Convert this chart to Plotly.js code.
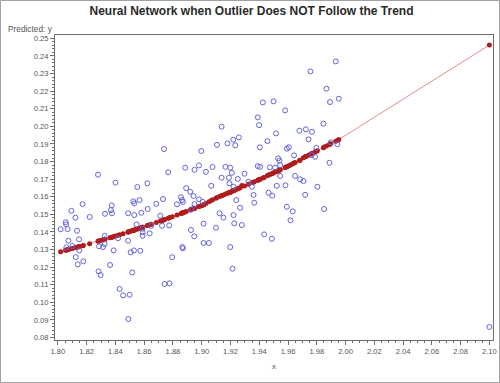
<!DOCTYPE html>
<html><head><meta charset="utf-8">
<script src="https://cdn.plot.ly/plotly-3.0.1.min.js"></script>
<style>html,body{margin:0;padding:0;background:#fff}#chart{width:500px;height:383px}</style>
</head><body><div id="chart"></div>
<script>
const xValues = [
1.8279,1.8738,1.8767,1.8885,1.8950,1.8981,1.8997,1.9029,1.9075,1.9106,
1.9138,1.9138,1.9165,1.9179,1.9198,1.9210,1.9219,1.9233,1.9258,1.9189,
1.9251,1.9297,1.9390,1.9399,1.9425,1.9499,1.9404,1.9457,1.9390,1.9406,
1.9474,1.9517,1.9580,1.9531,1.9540,1.9545,1.9510,1.9545,1.9592,1.9606,
1.9642,1.9649,1.9684,1.9679,1.9724,1.9742,1.9767,1.9756,1.9932,1.9867,
1.9892,1.9953,1.9846,1.9797,1.9788,1.9765,1.9897,1.9943,1.9888,1.8401,
1.8622,1.8552,1.8892,1.8172,1.8374,1.8369,1.8376,1.8328,1.8524,1.8531,
1.8568,1.8684,1.8731,1.8624,1.8580,1.8488,1.8531,1.8828,1.8856,1.8863,
1.8869,1.8094,1.8122,1.8221,1.8054,1.8057,1.8068,1.8019,1.8133,1.8073,
1.8147,1.8059,1.8101,1.8149,1.8124,1.8177,1.8138,1.8325,1.8286,1.8314,
1.8325,1.8388,1.8363,1.8283,1.8297,1.8418,1.8488,1.8547,1.8589,1.8589,
1.8589,1.8638,1.8649,1.8529,1.8506,1.8573,1.8517,1.8712,1.8724,1.8774,
1.8795,1.8742,1.8776,1.8865,1.8869,1.8429,1.8453,1.8499,1.8490,1.8920,
1.8943,1.8950,1.8981,1.9006,1.8927,1.9066,1.9193,1.9221,1.9325,1.9349,
1.9360,1.9365,1.9240,1.9267,1.9124,1.9151,1.9221,1.9226,1.9279,1.9013,
1.9099,1.8925,1.8948,1.9013,1.9050,1.9198,1.9214,1.9434,1.9488,1.9464,
1.9490,1.9522,1.9582,1.9592,1.9633,1.9617,1.9707,1.9719,1.9804,1.9851,
2.1000];

const observedY = [
0.1725,0.1871,0.1739,0.1765,0.1753,0.1778,0.1860,0.1742,0.1769,0.1895,
0.1998,0.1708,0.1770,0.1903,0.1765,0.1736,0.1924,0.1892,0.1937,0.1708,
0.1701,0.1731,0.2051,0.2007,0.2136,0.2142,0.1881,0.1916,0.1774,0.1770,
0.1767,0.1960,0.2091,0.1818,0.1805,0.1780,0.1765,0.1718,0.1873,0.1881,
0.1835,0.1718,0.1699,0.1975,0.1983,0.1926,0.1969,0.2312,0.2369,0.2214,
0.2138,0.2157,0.2015,0.1878,0.1827,0.1837,0.1909,0.1898,0.1793,0.1680,
0.1676,0.1655,0.1649,0.1558,0.1551,0.1524,0.1506,0.1503,0.1574,0.1562,
0.1581,0.1560,0.1587,0.1530,0.1509,0.1506,0.1496,0.1557,0.1597,0.1581,
0.1570,0.1520,0.1481,0.1485,0.1455,0.1443,0.1416,0.1415,0.1407,0.1350,
0.1358,0.1312,0.1320,0.1295,0.1257,0.1233,0.1216,0.1378,0.1318,0.1314,
0.1331,0.1295,0.1212,0.1176,0.1155,0.1364,0.1350,0.1443,0.1418,0.1398,
0.1378,0.1392,0.1435,0.1295,0.1284,0.1293,0.1170,0.1492,0.1435,0.1437,
0.1256,0.1104,0.1108,0.1314,0.1307,0.1076,0.1040,0.1043,0.0905,0.1628,
0.1604,0.1558,0.1585,0.1572,0.1528,0.1662,0.1676,0.1657,0.1685,0.1657,
0.1610,0.1566,0.1581,0.1537,0.1506,0.1481,0.1496,0.1449,0.1439,0.1447,
0.1424,0.1411,0.1375,0.1337,0.1337,0.1314,0.1191,0.1386,0.1361,0.1623,
0.1606,0.1662,0.1665,0.1543,0.1517,0.1466,0.1689,0.1611,0.1657,0.1530,
0.0860];

const predictedY = [
0.1347,0.1469,0.1478,0.1514,0.1534,0.1544,0.1549,0.1562,0.1583,0.1595,
0.1606,0.1606,0.1615,0.1620,0.1626,0.1631,0.1634,0.1639,0.1648,0.1623,
0.1645,0.1661,0.1694,0.1698,0.1707,0.1736,0.1699,0.1720,0.1694,0.1700,
0.1726,0.1742,0.1766,0.1748,0.1751,0.1753,0.1740,0.1753,0.1771,0.1776,
0.1791,0.1794,0.1808,0.1806,0.1829,0.1836,0.1846,0.1842,0.1916,0.1888,
0.1899,0.1925,0.1879,0.1859,0.1855,0.1845,0.1901,0.1920,0.1897,0.1377,
0.1436,0.1417,0.1516,0.1322,0.1370,0.1369,0.1370,0.1358,0.1409,0.1411,
0.1420,0.1454,0.1467,0.1437,0.1424,0.1400,0.1411,0.1496,0.1505,0.1507,
0.1509,0.1305,0.1311,0.1333,0.1296,0.1297,0.1299,0.1288,0.1313,0.1300,
0.1316,0.1297,0.1306,0.1317,0.1311,0.1323,0.1314,0.1358,0.1349,0.1355,
0.1358,0.1374,0.1367,0.1348,0.1351,0.1381,0.1400,0.1415,0.1427,0.1427,
0.1427,0.1441,0.1444,0.1410,0.1405,0.1422,0.1407,0.1462,0.1465,0.1480,
0.1487,0.1470,0.1481,0.1508,0.1509,0.1384,0.1390,0.1403,0.1400,0.1524,
0.1532,0.1534,0.1544,0.1552,0.1527,0.1579,0.1624,0.1635,0.1671,0.1679,
0.1683,0.1685,0.1642,0.1651,0.1601,0.1610,0.1635,0.1637,0.1664,0.1555,
0.1592,0.1526,0.1533,0.1555,0.1571,0.1626,0.1632,0.1710,0.1731,0.1723,
0.1732,0.1744,0.1767,0.1771,0.1787,0.1781,0.1822,0.1827,0.1862,0.1882,
0.2462];

const chartTitle = 'Neural Network when Outlier Does NOT Follow the Trend';
const yLabel = 'Predicted: y';
const xLabel = 'x';

// sort the fitted points by x so the fit line runs left to right
const order = xValues.map((v, i) => i).sort((a, b) => xValues[a] - xValues[b]);
const fitX = order.map(i => xValues[i]);
const fitY = order.map(i => predictedY[i]);

const traces = [
  {
    x: fitX, y: fitY, type: 'scatter', mode: 'lines+markers',
    line: {color: '#e58a8a', width: 1},
    marker: {color: '#b21c1c', size: 5, symbol: 'circle'},
    hoverinfo: 'skip'
  },
  {
    x: xValues, y: observedY, type: 'scatter', mode: 'markers',
    marker: {symbol: 'circle-open', size: 5, color: '#6464d8', line: {width: 1, color: '#6464d8'}}
  }
];

const axisCommon = {
  showgrid: false, zeroline: false, showline: true, mirror: true,
  linecolor: '#6e6e6e', linewidth: 1,
  ticks: 'outside', ticklen: 4, tickcolor: '#6e6e6e', tickwidth: 1,
  tickformat: '.2f',
  tickfont: {family: '"Liberation Sans", Arial, sans-serif', size: 7.6, color: '#555'}
};

const layout = {
  width: 500, height: 383,
  margin: {l: 55, r: 7, t: 35, b: 43},
  paper_bgcolor: '#ffffff', plot_bgcolor: '#ffffff',
  showlegend: false,
  font: {family: '"Liberation Sans", Arial, sans-serif', size: 8, color: '#555'},
  title: {
    text: '<b>' + chartTitle + '</b>',
    x: 0.503, xref: 'container', xanchor: 'center',
    y: 0.971, yref: 'container', yanchor: 'middle',
    font: {family: '"Liberation Sans", Arial, sans-serif', size: 12, color: '#2a2a2a'}
  },
  xaxis: Object.assign({}, axisCommon, {
    range: [1.798, 2.1025], tick0: 1.8, dtick: 0.02,
    minor: {dtick: 0.005, ticks: 'outside', ticklen: 2, tickcolor: '#6e6e6e', showgrid: false},
    title: {text: xLabel, standoff: 8, font: {size: 8, color: '#555'}}
  }),
  yaxis: Object.assign({}, axisCommon, {
    range: [0.0786, 0.2519], tick0: 0, dtick: 0.01,
    minor: {dtick: 0.002, ticks: 'outside', ticklen: 2, tickcolor: '#6e6e6e', showgrid: false}
  }),
  annotations: [{
    text: yLabel, xref: 'paper', yref: 'paper', x: -0.112, y: 1.02,
    xanchor: 'left', yanchor: 'middle', showarrow: false,
    font: {size: 8.3, color: '#555'}
  }],
  shapes: [{
    type: 'rect', xref: 'paper', yref: 'paper',
    x0: -0.1244, x1: 1.0148, y0: -0.1393, y1: 1.1131,
    line: {color: '#a0a0a0', width: 1}, layer: 'above'
  }]
};

Plotly.newPlot('chart', traces, layout, {displayModeBar: false, staticPlot: true});
</script>
</body></html>
